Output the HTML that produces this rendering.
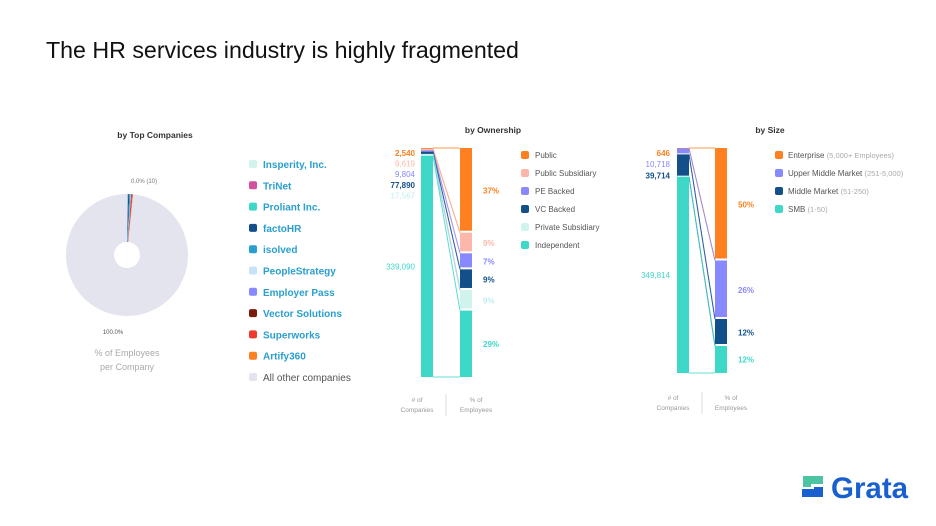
<!DOCTYPE html>
<html><head><meta charset="utf-8"><style>
body{margin:0;width:936px;height:526px;background:#fff;font-family:"Liberation Sans",sans-serif;overflow:hidden}
svg{position:absolute;left:0;top:0}
</style></head><body>
<svg width="936" height="526" id="svg">
<text x="46" y="58" font-size="23.2" fill="#111">The HR services industry is highly fragmented</text>
<text x="155" y="138" font-size="8.5" font-weight="bold" fill="#333" text-anchor="middle">by Top Companies</text>
<text x="493" y="133" font-size="8.5" font-weight="bold" fill="#333" text-anchor="middle">by Ownership</text>
<text x="770" y="133" font-size="8.5" font-weight="bold" fill="#333" text-anchor="middle">by Size</text>
<g id="pie"></g>
<text x="144" y="183" font-size="6" fill="#777" text-anchor="middle">0.0% (10)</text>
<text x="113" y="334" font-size="6" fill="#555" text-anchor="middle">100.0%</text>
<text x="127" y="356" font-size="9" fill="#aaa" text-anchor="middle">% of Employees</text>
<text x="127" y="370" font-size="9" fill="#aaa" text-anchor="middle">per Company</text>
<g id="leg1"></g>
<g id="own"></g>
<g id="size"></g>
<g>
<path d="M803 476h20v8h-12v3h-8z" fill="#4cc3a3"/>
<path d="M814 487h9v10h-21v-8h12z" fill="#1a5fd0"/>
<text x="831" y="498" font-size="29.5" font-weight="bold" fill="#1a5fd0">Grata</text>
</g>
</svg>
<script>
const NS='http://www.w3.org/2000/svg';
function mk(p,t,a,txt){const e=document.createElementNS(NS,t);for(const k in a)e.setAttribute(k,a[k]);if(txt!=null)e.textContent=txt;p.appendChild(e);return e;}
// ---- data ----
const pieNames=['Insperity, Inc.','TriNet','Proliant Inc.','factoHR','isolved','PeopleStrategy','Employer Pass','Vector Solutions','Superworks','Artify360','All other companies'];
const pieColors=['#d3f3ec','#d44f9e','#3ed8c8','#13508a','#2a9fcf','#c8e3f7','#8888ff','#7a1b0e','#f03a2c','#ff8020','#e4e4ef'];
const pieValues=[0.1,0.1,0.1,0.3,0.3,0.1,0.1,0.1,0.3,0.1,98.4];
const ownCats=['Public','Public Subsidiary','PE Backed','VC Backed','Private Subsidiary','Independent'];
const ownColors=['#ff8020','#fbb8aa','#8888ff','#13508a','#d0f3ee','#3ed8c8'];
const ownLabelColors=['#ff8020','#fbb8aa','#8888ff','#13508a','#c0ecf2','#3ed8c8'];
const ownCompanies=['2,540','9,619','9,804','77,890','17,567','339,090'];
const ownCompanyShare=[0.4,0.6,0.6,1.0,0.8,96.6];
const ownEmployees=[37,9,7,9,9,29];
const sizeCats=['Enterprise','Upper Middle Market','Middle Market','SMB'];
const sizeSub=['(5,000+ Employees)','(251-5,000)','(51-250)','(1-50)'];
const sizeColors=['#ff8020','#8888ff','#13508a','#3ed8c8'];
const sizeCompanies=[646,10718,39714,349814];
const sizeEmployees=[50,26,12,12];
// ---- pie ----
const pie=document.getElementById('pie');
const cx=127,cy=255,R=61,r=13;
let tot=pieValues.reduce((a,b)=>a+b,0),ang=0;
pieValues.forEach((v,i)=>{
 const a0=ang/tot*2*Math.PI-Math.PI/2;ang+=v;const a1=ang/tot*2*Math.PI-Math.PI/2;
 const lg=(a1-a0)>Math.PI?1:0;
 const d=`M${cx+R*Math.cos(a0)} ${cy+R*Math.sin(a0)} A${R} ${R} 0 ${lg} 1 ${cx+R*Math.cos(a1)} ${cy+R*Math.sin(a1)} L${cx+r*Math.cos(a1)} ${cy+r*Math.sin(a1)} A${r} ${r} 0 ${lg} 0 ${cx+r*Math.cos(a0)} ${cy+r*Math.sin(a0)}Z`;
 const p=mk(pie,'path',{d:d,fill:pieColors[i]});
 
 
});
const leg1=document.getElementById('leg1');
pieNames.forEach((n,i)=>{
 const y=165+i*21.3;
 const s=mk(leg1,'rect',{x:249,y:y-5,width:8,height:8,rx:2,fill:pieColors[i]});
 
 
 const t=mk(leg1,'text',{x:263,y:y+3,'font-size':10,fill:i==10?'#555':'#2a9fcf','font-weight':i==10?'normal':'bold'},n);
 
 
});
// ---- stacked pair ----
function pair(g,lx,rx,top,bot,cShare,eShare,colors,lblColors,cLabels,eLabels){
 const W=12,H=bot-top,gap=2;
 const ct=cShare.reduce((a,b)=>a+b,0),et=eShare.reduce((a,b)=>a+b,0);
 let cy0=top,ey0=top;
 const cPos=[],ePos=[];
 cShare.forEach((v,i)=>{const h=v/ct*H;cPos.push([cy0,cy0+h]);cy0+=h;});
 eShare.forEach((v,i)=>{const h=v/et*H;ePos.push([ey0,ey0+h]);ey0+=h;});
 colors.forEach((c,i)=>{
  const [a0,a1]=cPos[i],[b0,b1]=ePos[i];
  const l1=mk(g,'line',{x1:lx+W,y1:a0,x2:rx,y2:b0,stroke:c,'stroke-width':1,opacity:0.8});
  
  
  const l2=mk(g,'line',{x1:lx+W,y1:a1,x2:rx,y2:b1,stroke:c,'stroke-width':1,opacity:0.8});
  
  
  const r1=mk(g,'rect',{x:lx,y:a0,width:W,height:Math.max(0.8,a1-a0-(i<colors.length-1&&a1-a0>4?1:0)),fill:c});
  
  
  const r2=mk(g,'rect',{x:rx,y:b0,width:W,height:b1-b0-(i<colors.length-1?gap:0),fill:c});
  
  
  const t2=mk(g,'text',{x:rx+W+11,y:(b0+b1)/2+3,'font-size':8,'font-weight':'bold',fill:lblColors[i]},eLabels[i]+'%');
  
  
 });
 return cPos;
}
// ownership
const own=document.getElementById('own');
const oc=pair(own,421,460,148,377,ownCompanyShare,ownEmployees,ownColors,ownLabelColors,ownCompanies,ownEmployees);
ownCompanies.forEach((l,i)=>{
 const y=i<5?156+i*10.6:(oc[5][0]+oc[5][1])/2+3;
 const t=mk(own,'text',{x:415,y:y,'font-size':8,'font-weight':i==0||i==3?'bold':'normal','text-anchor':'end',fill:ownLabelColors[i]},l);
 
 
});
ownCats.forEach((n,i)=>{
 const y=155+i*18;
 const s=mk(own,'rect',{x:521,y:y-4,width:8,height:8,rx:2,fill:ownColors[i]});
 
 
 const t=mk(own,'text',{x:535,y:y+3,'font-size':8,fill:'#555'},n);
 
 
});
// size
const size=document.getElementById('size');
const sc=pair(size,677,715,148,373,sizeCompanies,sizeEmployees,sizeColors,sizeColors,sizeCompanies,sizeEmployees);
sizeCompanies.forEach((v,i)=>{
 const y=i<3?156+i*10.8+(i==2?1:0):(sc[3][0]+sc[3][1])/2+3;
 const t=mk(size,'text',{x:670,y:y,'font-size':8,'font-weight':i==0||i==2?'bold':'normal','text-anchor':'end',fill:sizeColors[i]},v.toLocaleString('en-US'));
 
 
});
sizeCats.forEach((n,i)=>{
 const y=155+i*18;
 const s=mk(size,'rect',{x:775,y:y-4,width:8,height:8,rx:2,fill:sizeColors[i]});
 
 
 const t=mk(size,'text',{x:788,y:y+3,'font-size':8,fill:'#555'},n+' ');
 
 
 mk(t,'tspan',{fill:'#aaa','font-size':7.5},sizeSub[i]);
});
// axis captions
[[own,427,466,446,396],[size,683,721,702,394]].forEach(([g,a,b,d,y])=>{
 mk(g,'text',{x:a-10,y:y+6,'font-size':6.5,fill:'#999','text-anchor':'middle'},'# of');
 mk(g,'text',{x:a-10,y:y+16,'font-size':6.5,fill:'#999','text-anchor':'middle'},'Companies');
 mk(g,'text',{x:b+10,y:y+6,'font-size':6.5,fill:'#999','text-anchor':'middle'},'% of');
 mk(g,'text',{x:b+10,y:y+16,'font-size':6.5,fill:'#999','text-anchor':'middle'},'Employees');
 mk(g,'line',{x1:d,y1:y-2,x2:d,y2:y+20,stroke:'#ddd'});
});
</script>
</body></html>
